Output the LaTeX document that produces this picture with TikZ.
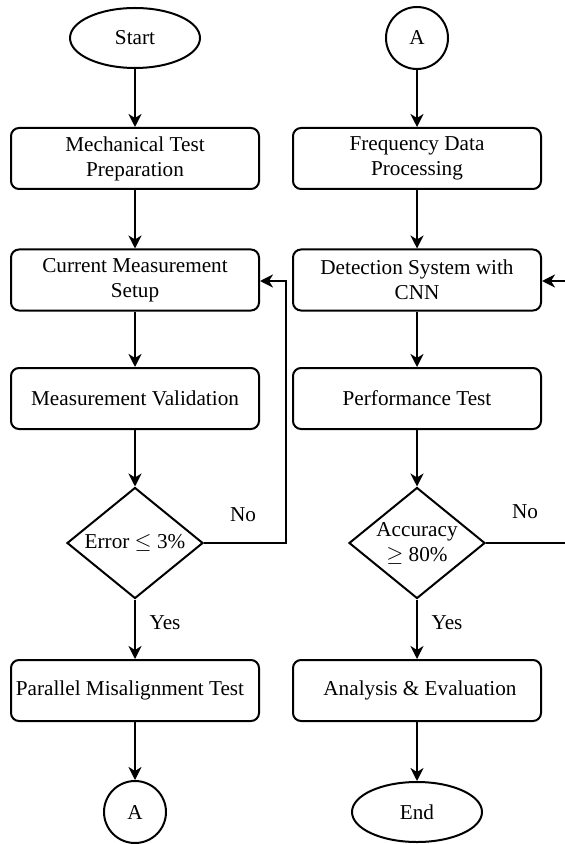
\documentclass[tikz,border=0pt]{standalone}
\usepackage{fontspec}
\setmainfont{Liberation Serif}
\usetikzlibrary{shapes.geometric,arrows.meta}
\begin{document}
\begin{tikzpicture}[x=0.5pt,y=-0.5pt,
  every node/.style={font=\fontsize{10.6}{12.5}\selectfont, align=center, inner sep=0pt},
  proc/.style={draw, line width=1pt, rounded corners=4pt, minimum width=124pt, minimum height=30.5pt},
  term/.style={draw, line width=1pt, ellipse, minimum width=65pt, minimum height=30pt},
  conn/.style={draw, line width=1pt, circle, minimum size=31pt},
  decide/.style={draw, line width=1pt, diamond, inner sep=-8pt, minimum width=68pt, minimum height=55.5pt},
  flow/.style={line width=1pt, -{Stealth[length=6.5pt,width=6.5pt,inset=2pt]}},
  plain/.style={line width=1pt},
  lbl/.style={font=\fontsize{10.6}{12.5}\selectfont}]
\useasboundingbox (0,0) rectangle (565,844);

% left column
\node[term] (start) at (135,38) {Start};
\node[proc] (mech) at (135,158.5) {Mechanical Test\\Preparation};
\node[proc] (cur) at (135,280) {Current Measurement\\Setup};
\node[proc] (val) at (135,398.5) {Measurement Validation};
\node[decide] (err) at (135,543) {Error $\leq$ 3\%};
\node[proc] (par) at (135,690.5) {\hspace*{-5pt}Parallel Misalignment Test};
\node[conn] (aout) at (135,812) {A};

% right column
\node[conn] (ain) at (417,38) {A};
\node[proc] (freq) at (417,158.5) {Frequency Data\\Processing};
\node[proc] (det) at (417,280) {Detection System with\\CNN};
\node[proc] (perf) at (417,398.5) {Performance Test};
\node[decide] (acc) at (417,543) {Accuracy\\$\geq$ 80\%};
\node[proc] (ana) at (417,690.5) {\hspace*{3pt}Analysis \& Evaluation};
\node[term] (fin) at (417,812) {End};

% loop-back points
\coordinate (fbl) at (286,281);
\coordinate (fbr) at (565,281);
\coordinate (accout) at (565,543);

% left column connectors
\draw[flow] (start) -- (mech);
\draw[flow] (mech) -- (cur);
\draw[flow] (cur) -- (val);
\draw[flow] (val) -- (err);
\draw[flow] (err) -- (par);
\draw[flow] (par) -- (aout);
\draw[flow] (err.east) -| (fbl) -- (cur.east |- fbl);

% right column connectors
\draw[flow] (ain) -- (freq);
\draw[flow] (freq) -- (det);
\draw[flow] (det) -- (perf);
\draw[flow] (perf) -- (acc);
\draw[flow] (acc) -- (ana);
\draw[flow] (ana) -- (fin);
\draw[plain] (acc.east) -- (accout);
\draw[flow] (fbr) -- (det.east |- fbr);

% branch labels
\node[lbl] (no1) at (243,515) {No};
\node[lbl] (yes1) at (165,623) {Yes};
\node[lbl] (no2) at (525,512) {No};
\node[lbl] (yes2) at (447,623) {Yes};
\end{tikzpicture}
\end{document}
